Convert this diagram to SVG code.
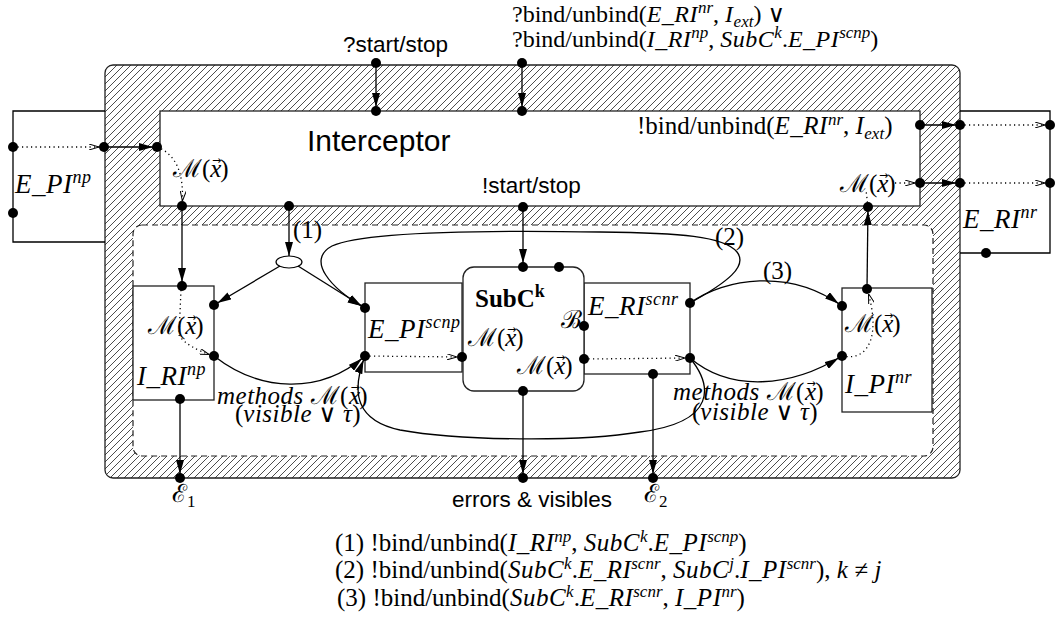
<svg xmlns="http://www.w3.org/2000/svg" width="1057" height="621" viewBox="0 0 1057 621">
<style>
.ln{fill:none;stroke:#000;stroke-width:1.3}
.dt{fill:none;stroke:#000;stroke-width:1.3;stroke-dasharray:1.2,3.3}
.bx{fill:#fff;stroke:#222;stroke-width:1.3}
.d{fill:#000}
.m{font-family:"Liberation Serif","DejaVu Serif",serif;font-size:25px;fill:#000}
.tp{font-size:24px}
.lb{font-size:27px}
.i{font-style:italic;letter-spacing:0.5px}
.sp{font-size:17px;font-style:italic}
.sb{font-size:17px;font-style:normal}
.sl{font-size:18px}
.ar{font-family:"DejaVu Sans",sans-serif;font-size:11px;font-style:normal}
.sf{font-family:"Liberation Sans",Arial,sans-serif;fill:#000}
</style>
<defs>
<pattern id="hatch" patternUnits="userSpaceOnUse" width="7" height="7">
<path d="M-1,1 L1,-1 M0,7 L7,0 M6,8 L8,6" stroke="#000" stroke-width="0.7"/>
</pattern>
<marker id="fa" viewBox="0 0 14 8" refX="18" refY="4" markerWidth="14" markerHeight="8" orient="auto" markerUnits="userSpaceOnUse"><path d="M0,0 L14,4 L0,8 z" fill="#000"/></marker>
<marker id="fa0" viewBox="0 0 14 8" refX="14" refY="4" markerWidth="14" markerHeight="8" orient="auto" markerUnits="userSpaceOnUse"><path d="M0,0 L14,4 L0,8 z" fill="#000"/></marker>
<marker id="oa" viewBox="0 0 10 6" refX="15" refY="3" markerWidth="10" markerHeight="6" orient="auto" markerUnits="userSpaceOnUse"><path d="M0,0 L10,3 L0,6" fill="none" stroke="#000" stroke-width="1"/></marker>
</defs>
<rect width="1057" height="621" fill="#fff"/>

<g id="component">
<rect x="105" y="65" width="855" height="413" rx="8" fill="url(#hatch)" stroke="#222" stroke-width="1.3"/>
</g>

<g id="interceptor">
<rect class="bx" x="160" y="111" width="760" height="95"/>
<text class="sf" x="307" y="151" font-size="30">Interceptor</text>
<text class="sf" x="482" y="193" font-size="22.5">!start/stop</text>
<text class="m" x="637" y="134">!bind/unbind(<tspan class="i">E_RI</tspan><tspan class="sp" dy="-9">nr</tspan><tspan dy="9">, </tspan><tspan class="i">I</tspan><tspan class="sp" dy="5">ext</tspan><tspan dy="-5">)</tspan></text>
<text class="m" x="173" y="177">ℳ(<tspan class="i">x</tspan><tspan class="ar" dx="-10" dy="-13">→</tspan><tspan dx="-1" dy="13">)</tspan></text>
<text class="m" x="840" y="192">ℳ(<tspan class="i">x</tspan><tspan class="ar" dx="-10" dy="-13">→</tspan><tspan dx="-1" dy="13">)</tspan></text>
</g>

<g id="content">
<rect x="133" y="225" width="800" height="231" rx="9" fill="#fff" stroke="#222" stroke-width="1.2" stroke-dasharray="6,4"/>
</g>

<g id="e-pi-np">
<path class="ln" d="M105,111 H13 V242 H105"/>
<text class="m lb i" x="15" y="193">E_PI<tspan class="sl" dy="-10">np</tspan></text>
</g>

<g id="e-ri-nr">
<path class="ln" d="M960,111 H1050 V253 H960"/>
<text class="m lb i" x="963" y="228">E_RI<tspan class="sl" dy="-10">nr</tspan></text>
</g>

<g id="i-ri-np">
<rect class="bx" x="133" y="286" width="81" height="114"/>
<text class="m" x="148" y="334">ℳ(<tspan class="i">x</tspan><tspan class="ar" dx="-10" dy="-13">→</tspan><tspan dx="-1" dy="13">)</tspan></text>
<text class="m lb i" x="137" y="385">I_RI<tspan class="sl" dy="-10">np</tspan></text>
</g>

<g id="e-pi-scnp">
<rect class="bx" x="365" y="283" width="97" height="89"/>
<text class="m lb i" x="368" y="338">E_PI<tspan class="sl" dy="-10">scnp</tspan></text>
</g>

<g id="e-ri-scnr">
<rect class="bx" x="584" y="283" width="106" height="91"/>
<text class="m lb i" x="588" y="315">E_RI<tspan class="sl" dy="-10">scnr</tspan></text>
</g>

<g id="subc-k">
<rect class="bx" x="463" y="267" width="121" height="124" rx="11"/>
<text class="m" x="475" y="307" font-size="26" font-weight="bold">SubC<tspan font-size="18" dy="-10">k</tspan></text>
<text class="m" x="561" y="328">ℬ</text>
<text class="m" x="468" y="346">ℳ(<tspan class="i">x</tspan><tspan class="ar" dx="-10" dy="-13">→</tspan><tspan dx="-1" dy="13">)</tspan></text>
<text class="m" x="517" y="374">ℳ(<tspan class="i">x</tspan><tspan class="ar" dx="-10" dy="-13">→</tspan><tspan dx="-1" dy="13">)</tspan></text>
</g>

<g id="i-pi-nr">
<rect class="bx" x="842" y="288" width="90" height="124"/>
<text class="m" x="845" y="332">ℳ(<tspan class="i">x</tspan><tspan class="ar" dx="-10" dy="-13">→</tspan><tspan dx="-1" dy="13">)</tspan></text>
<text class="m lb i" x="845" y="393">I_PI<tspan class="sl" dy="-10">nr</tspan></text>
</g>

<g id="bind-node">
<ellipse cx="289" cy="262" rx="13" ry="6" fill="#fff" stroke="#000" stroke-width="1.2"/>
</g>

<g id="connectors">
<path class="dt" d="M13,147 H104" marker-end="url(#oa)"/>
<path class="ln" d="M104,147 H157" marker-end="url(#fa)"/>
<path class="dt" d="M157,147 Q186,158 182,206" marker-end="url(#oa)"/>
<path class="ln" d="M376,63 V111" marker-end="url(#fa)"/>
<path class="ln" d="M522,63 V111" marker-end="url(#fa)"/>
<path class="ln" d="M182,206 V286" marker-end="url(#fa)"/>
<path class="ln" d="M289,206 V256" marker-end="url(#fa0)"/>
<path class="ln" d="M280,266 L214,305" marker-end="url(#fa)"/>
<path class="ln" d="M298,266 L365,308" marker-end="url(#fa)"/>
<path class="ln" d="M523,207 V267" marker-end="url(#fa)"/>
<path class="dt" d="M181,290 L179,335 Q186,347 214,356" marker-end="url(#oa)"/>
<path class="ln" d="M214,356 C260,392 320,395 365,356" marker-end="url(#fa)"/>
<path class="dt" d="M365,356 L462,357" marker-end="url(#oa)"/>
<path class="dt" d="M584,359 L690,358" marker-end="url(#oa)"/>
<path class="ln" d="M690,303 C728,282 748,266 737,252 C724,236 680,233 600,232 C480,230 362,232 332,246 C306,260 330,288 365,308" marker-end="url(#fa)"/>
<path class="ln" d="M690,303 C725,278 790,268 842,306" marker-end="url(#fa)"/>
<path class="ln" d="M690,358 C730,392 790,388 842,356" marker-end="url(#fa)"/>
<path class="ln" d="M690,358 C712,385 718,422 640,432 C580,442 460,441 400,430 C358,421 350,395 365,356" marker-end="url(#fa)"/>
<path class="dt" d="M842,356 C872,362 880,330 867,289" marker-end="url(#oa)"/>
<path class="ln" d="M867,289 L868,207" marker-end="url(#fa)"/>
<path class="dt" d="M868,207 L866,190"/>
<path class="dt" d="M895,183 H920" marker-end="url(#oa)"/>
<path class="ln" d="M920,125 H960" marker-end="url(#fa)"/>
<path class="dt" d="M960,125 H1050" marker-end="url(#oa)"/>
<path class="ln" d="M920,183 H960" marker-end="url(#fa)"/>
<path class="dt" d="M960,183 H1050" marker-end="url(#oa)"/>
<path class="ln" d="M180,399 V478" marker-end="url(#fa)"/>
<path class="ln" d="M523,391 V478" marker-end="url(#fa)"/>
<path class="ln" d="M653,374 V478" marker-end="url(#fa)"/>
</g>

<g id="ports">
<circle class="d" cx="13" cy="147" r="5"/><circle class="d" cx="13" cy="213" r="5"/>
<circle class="d" cx="104" cy="147" r="5"/><circle class="d" cx="157" cy="147" r="5"/>
<circle class="d" cx="182" cy="206" r="5"/><circle class="d" cx="289" cy="206" r="5"/>
<circle class="d" cx="376" cy="63" r="5"/><circle class="d" cx="376" cy="111" r="5"/>
<circle class="d" cx="522" cy="63" r="5"/><circle class="d" cx="522" cy="111" r="5"/>
<circle class="d" cx="523" cy="207" r="5"/><circle class="d" cx="868" cy="207" r="5"/>
<circle class="d" cx="920" cy="125" r="5"/><circle class="d" cx="960" cy="125" r="5"/><circle class="d" cx="1050" cy="125" r="5"/>
<circle class="d" cx="920" cy="183" r="5"/><circle class="d" cx="960" cy="183" r="5"/><circle class="d" cx="1050" cy="183" r="5"/>
<circle class="d" cx="986" cy="253" r="5"/>
<circle class="d" cx="182" cy="286" r="5"/><circle class="d" cx="214" cy="305" r="5"/><circle class="d" cx="214" cy="356" r="5"/><circle class="d" cx="180" cy="399" r="5"/>
<circle class="d" cx="365" cy="308" r="5"/><circle class="d" cx="365" cy="356" r="5"/><circle class="d" cx="462" cy="357" r="5"/>
<circle class="d" cx="523" cy="267" r="5"/><circle class="d" cx="559" cy="267" r="5"/><circle class="d" cx="584" cy="326" r="5"/><circle class="d" cx="584" cy="359" r="5"/><circle class="d" cx="523" cy="391" r="5"/>
<circle class="d" cx="690" cy="303" r="5"/><circle class="d" cx="690" cy="358" r="5"/><circle class="d" cx="653" cy="374" r="5"/>
<circle class="d" cx="842" cy="306" r="5"/><circle class="d" cx="842" cy="356" r="5"/><circle class="d" cx="867" cy="289" r="5"/>
<circle class="d" cx="180" cy="478" r="5"/><circle class="d" cx="523" cy="478" r="5"/><circle class="d" cx="653" cy="478" r="5"/>
</g>

<g id="labels">
<text class="sf" x="343" y="52" font-size="22.5">?start/stop</text>
<text class="m tp" x="512" y="22">?bind/unbind(<tspan class="i">E_RI</tspan><tspan class="sp" dy="-9">nr</tspan><tspan dy="9">, </tspan><tspan class="i">I</tspan><tspan class="sp" dy="5">ext</tspan><tspan dy="-5">) ∨</tspan></text>
<text class="m tp" x="512" y="47">?bind/unbind(<tspan class="i">I_RI</tspan><tspan class="sp" dy="-9">np</tspan><tspan dy="9">, </tspan><tspan class="i">SubC</tspan><tspan class="sp" dy="-9">k</tspan><tspan dy="9">.</tspan><tspan class="i">E_PI</tspan><tspan class="sp" dy="-9">scnp</tspan><tspan dy="9">)</tspan></text>
<text class="m" x="293" y="238">(1)</text>
<text class="m" x="715" y="245">(2)</text>
<text class="m" x="763" y="279">(3)</text>
<text class="m i" x="217" y="404">methods <tspan style="font-style:normal">ℳ(</tspan>x<tspan class="ar" dx="-10" dy="-13">→</tspan><tspan style="font-style:normal" dx="-1" dy="13">)</tspan></text>
<text class="m" x="235" y="422">(<tspan class="i">visible</tspan> ∨ <tspan class="i">τ</tspan>)</text>
<text class="m i" x="673" y="400">methods <tspan style="font-style:normal">ℳ(</tspan>x<tspan class="ar" dx="-10" dy="-13">→</tspan><tspan style="font-style:normal" dx="-1" dy="13">)</tspan></text>
<text class="m" x="692" y="420">(<tspan class="i">visible</tspan> ∨ <tspan class="i">τ</tspan>)</text>
<text class="m" x="172" y="502">ℰ<tspan class="sb" dy="5">1</tspan></text>
<text class="sf" x="452" y="507" font-size="22.5">errors &amp; visibles</text>
<text class="m" x="644" y="502">ℰ<tspan class="sb" dy="5">2</tspan></text>
<text class="m" x="335" y="551">(1) !bind/unbind(<tspan class="i">I_RI</tspan><tspan class="sp" dy="-9">np</tspan><tspan dy="9">, </tspan><tspan class="i">SubC</tspan><tspan class="sp" dy="-9">k</tspan><tspan dy="9">.</tspan><tspan class="i">E_PI</tspan><tspan class="sp" dy="-9">scnp</tspan><tspan dy="9">)</tspan></text>
<text class="m" x="335" y="578">(2) !bind/unbind(<tspan class="i">SubC</tspan><tspan class="sp" dy="-9">k</tspan><tspan dy="9">.</tspan><tspan class="i">E_RI</tspan><tspan class="sp" dy="-9">scnr</tspan><tspan dy="9">, </tspan><tspan class="i">SubC</tspan><tspan class="sp" dy="-9">j</tspan><tspan dy="9">.</tspan><tspan class="i">I_PI</tspan><tspan class="sp" dy="-9">scnr</tspan><tspan dy="9">), </tspan><tspan class="i">k</tspan> ≠ <tspan class="i">j</tspan></text>
<text class="m" x="337" y="606">(3) !bind/unbind(<tspan class="i">SubC</tspan><tspan class="sp" dy="-9">k</tspan><tspan dy="9">.</tspan><tspan class="i">E_RI</tspan><tspan class="sp" dy="-9">scnr</tspan><tspan dy="9">, </tspan><tspan class="i">I_PI</tspan><tspan class="sp" dy="-9">nr</tspan><tspan dy="9">)</tspan></text>
</g>
</svg>
